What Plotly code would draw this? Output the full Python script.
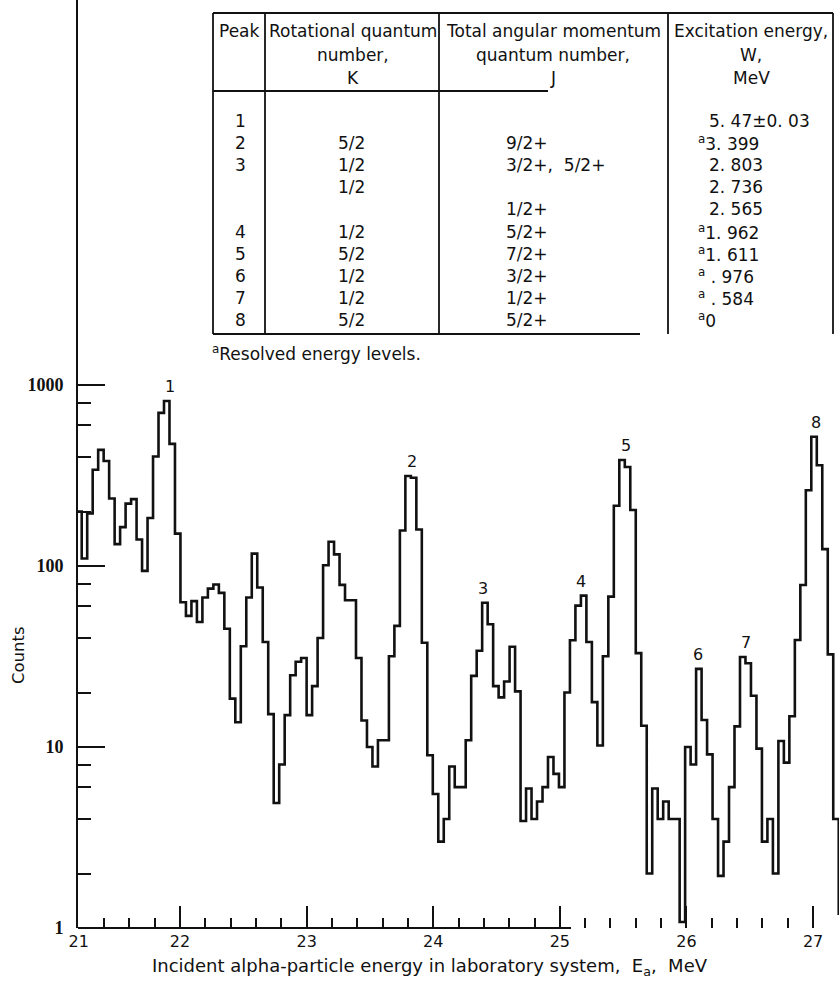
import math
import plotly.graph_objects as go

# ---------------- data ----------------
# histogram channels (uniform bins), counts
bin_start_mev = 21.180
bin_width_mev = 0.04333
counts = [
    200,
    110, 195, 340, 438, 380, 236, 132, 164, 221, 234, 140, 94, 184, 403, 701, 815, 473,
    151, 63, 53, 64, 49, 67, 75, 79, 71, 45, 18.5, 13.7, 36, 67, 117, 76, 38,
    15.2, 4.9, 8, 15, 24.9, 29.6, 31, 15, 21.7, 40, 101, 136, 116, 78.6, 64.7, 64.7, 31,
    14, 10, 7.8, 10.9, 10.9, 31.7, 46.7, 157, 314, 307, 159, 37.7, 9, 5.5, 3, 4, 7.8,
    6, 6, 10.9, 24.7, 34, 62.7, 47.7, 21.7, 18.8, 23, 35.8, 20.3, 3.9, 5.9, 4, 5, 6,
    8.8, 7.1, 6, 20, 38.9, 60.4, 68.6, 38, 17.7, 10.2, 31.7, 67.7, 215, 385, 352, 204, 33,
    13.1, 2, 5.9, 4, 5, 4, 4, 1.08, 10, 8, 27, 14.1, 9.1, 4, 1.94, 3, 6, 13, 31.4, 29,
    19.2, 9.8, 3, 4, 2, 10.8, 8.2, 14.8, 39, 78.5, 262, 518, 360, 124, 32.5, 4,
    1.2,
]

peak_labels = ["1", "2", "3", "4", "5", "6", "7", "8"]
peak_energy = [21.92, 23.83, 24.39, 25.17, 25.52, 26.09, 26.47, 27.02]

x_tick_vals = [21.2, 22, 23, 24, 25, 26, 27]
x_tick_text = ["21", "22", "23", "24", "25", "26", "27"]
y_tick_vals = [1, 10, 100, 1000]
y_tick_text = ["1", "10", "100", "1000"]

table_headers = [
    ["Peak"],
    ["Rotational quantum", "number,", "K"],
    ["Total angular momentum", "quantum number,", "J"],
    ["Excitation energy,", "W,", "MeV"],
]
table_peak = ["1", "2", "3", "", "", "4", "5", "6", "7", "8"]
table_k = ["", "5/2", "1/2", "1/2", "", "1/2", "5/2", "1/2", "1/2", "5/2"]
table_j = ["", "9/2+", "3/2+,  5/2+", "", "1/2+", "5/2+", "7/2+", "3/2+", "1/2+", "5/2+"]
table_w = ["5. 47\u00b10. 03", "a3. 399", "2. 803", "2. 736", "2. 565",
           "a1. 962", "a1. 611", "a . 976", "a . 584", "a0"]
footnote = "aResolved energy levels."

# ---------------- layout helpers (pixel -> paper) ----------------
W, H = 839, 982
L, R, T, B = 78, 0, 0, 54
PW, PH = W - L - R, H - T - B


def px(x):
    return (x - L) / PW


def py(y):
    return (T + PH - y) / PH


FONT = "DejaVu Sans, Liberation Sans, Arial, sans-serif"
INK = "#111111"
TS = 17  # table font size

edges = [bin_start_mev + i * bin_width_mev for i in range(len(counts) + 1)]
xs = edges
ys = counts + [counts[-1]]

fig = go.Figure()
fig.add_trace(go.Scatter(
    x=xs, y=ys, mode="lines", line=dict(shape="hv", color=INK, width=2.6),
    hoverinfo="skip", showlegend=False,
))

annotations = []

# peak numbers above the peaks
for lab, e in zip(peak_labels, peak_energy):
    near = [c for c, x0 in zip(counts, edges) if abs(x0 + bin_width_mev / 2 - e) < 0.07]
    annotations.append(dict(
        x=e, y=math.log10(max(near)), xref="x", yref="y",
        text=lab, showarrow=False, yanchor="bottom", yshift=3,
        font=dict(family=FONT, size=16, color=INK),
    ))

# axis titles
annotations.append(dict(
    x=px(430), y=py(967), xref="paper", yref="paper", showarrow=False,
    text="Incident alpha-particle energy in laboratory system,  E<sub>a</sub>,  MeV",
    font=dict(family=FONT, size=18, color=INK), xanchor="center", yanchor="middle",
))
annotations.append(dict(
    x=px(18), y=py(655), xref="paper", yref="paper", showarrow=False,
    text="Counts", textangle=-90,
    font=dict(family=FONT, size=16.5, color=INK), xanchor="center", yanchor="middle",
))

# table
col_centers = [239, 353, 553, 751]
header_y = [31, 55, 78]
for cx, lines in zip(col_centers, table_headers):
    for i, t in enumerate(lines):
        annotations.append(dict(
            x=px(cx), y=py(header_y[i]), xref="paper", yref="paper", showarrow=False,
            text=t, font=dict(family=FONT, size=TS, color=INK),
            xanchor="center", yanchor="middle",
        ))

row_y0, row_dy = 121, 22.1


def tf(s):
    s = s.replace(" ", "\u00a0")
    if s.startswith("a"):
        return "<sup>a</sup>" + s[1:], 696
    return s, 707


for i in range(len(table_peak)):
    ry = py(row_y0 + i * row_dy)
    if table_peak[i]:
        annotations.append(dict(x=px(240), y=ry, xref="paper", yref="paper", showarrow=False,
                                text=table_peak[i], font=dict(family=FONT, size=TS, color=INK),
                                xanchor="center", yanchor="middle"))
    if table_k[i]:
        annotations.append(dict(x=px(351), y=ry, xref="paper", yref="paper", showarrow=False,
                                text=table_k[i], font=dict(family=FONT, size=TS, color=INK),
                                xanchor="center", yanchor="middle"))
    if table_j[i]:
        annotations.append(dict(x=px(504), y=ry, xref="paper", yref="paper", showarrow=False,
                                text=table_j[i].replace(" ", "\u00a0"),
                                font=dict(family=FONT, size=TS, color=INK),
                                xanchor="left", yanchor="middle"))
    txt, lx = tf(table_w[i])
    annotations.append(dict(x=px(lx), y=ry, xref="paper", yref="paper", showarrow=False,
                            text=txt, font=dict(family=FONT, size=TS, color=INK),
                            xanchor="left", yanchor="middle"))

annotations.append(dict(
    x=px(210), y=py(353), xref="paper", yref="paper", showarrow=False,
    text="<sup>a</sup>" + footnote[1:], font=dict(family=FONT, size=TS, color=INK),
    xanchor="left", yanchor="middle",
))

shapes = []


def hline(x0, x1, y, w=1.8):
    shapes.append(dict(type="line", xref="paper", yref="paper",
                       x0=px(x0), x1=px(x1), y0=py(y), y1=py(y),
                       line=dict(color=INK, width=w)))


def vline(x, y0, y1, w=1.8):
    shapes.append(dict(type="line", xref="paper", yref="paper",
                       x0=px(x), x1=px(x), y0=py(y0), y1=py(y1),
                       line=dict(color=INK, width=w)))


tab_top, tab_bot = 13, 334
hline(213, 833, tab_top)
hline(213, 548, 91)
hline(213, 640, tab_bot)
for xv in [213, 265, 439, 668, 833]:
    vline(xv, tab_top, tab_bot)

# x-axis baseline (only drawn partially in the original)
shapes.append(dict(type="line", xref="paper", yref="paper",
                   x0=0, x1=px(571), y0=0, y1=0, line=dict(color=INK, width=2)))

x_minor = [round(21.4 + 0.2 * i, 1) for i in range(30)]
x_minor = [v for v in x_minor if abs(v - round(v)) > 1e-6]
y_minor = [m * 10 ** d for d in range(3) for m in (2, 4, 6, 8)]

fig.update_layout(
    width=W, height=H,
    margin=dict(l=L, r=R, t=T, b=B, pad=0),
    paper_bgcolor="white", plot_bgcolor="white",
    showlegend=False,
    annotations=annotations,
    shapes=shapes,
    xaxis=dict(
        range=[21.194, 27.205], showgrid=False, zeroline=False, showline=False,
        tickmode="array", tickvals=x_tick_vals, ticktext=x_tick_text,
        ticks="inside", ticklen=22, tickwidth=2, tickcolor=INK,
        tickfont=dict(family=FONT, size=16, color=INK),
        ticklabelstandoff=2,
        minor=dict(tickmode="array", tickvals=x_minor, ticks="inside",
                   ticklen=10, tickwidth=2, tickcolor=INK, showgrid=False),
    ),
    yaxis=dict(
        type="log", range=[0, 5.127], showgrid=False, zeroline=False,
        showline=True, linewidth=2, linecolor=INK,
        tickmode="array", tickvals=y_tick_vals, ticktext=y_tick_text,
        ticks="inside", ticklen=27, tickwidth=2, tickcolor=INK,
        tickfont=dict(family="Liberation Serif, DejaVu Serif, serif", size=18,
                      color=INK, weight="bold"),
        ticklabelstandoff=9,
        minor=dict(tickmode="array", tickvals=y_minor, ticks="inside",
                   ticklen=13, tickwidth=2, tickcolor=INK, showgrid=False),
    ),
)

fig.write_html("out.html")
